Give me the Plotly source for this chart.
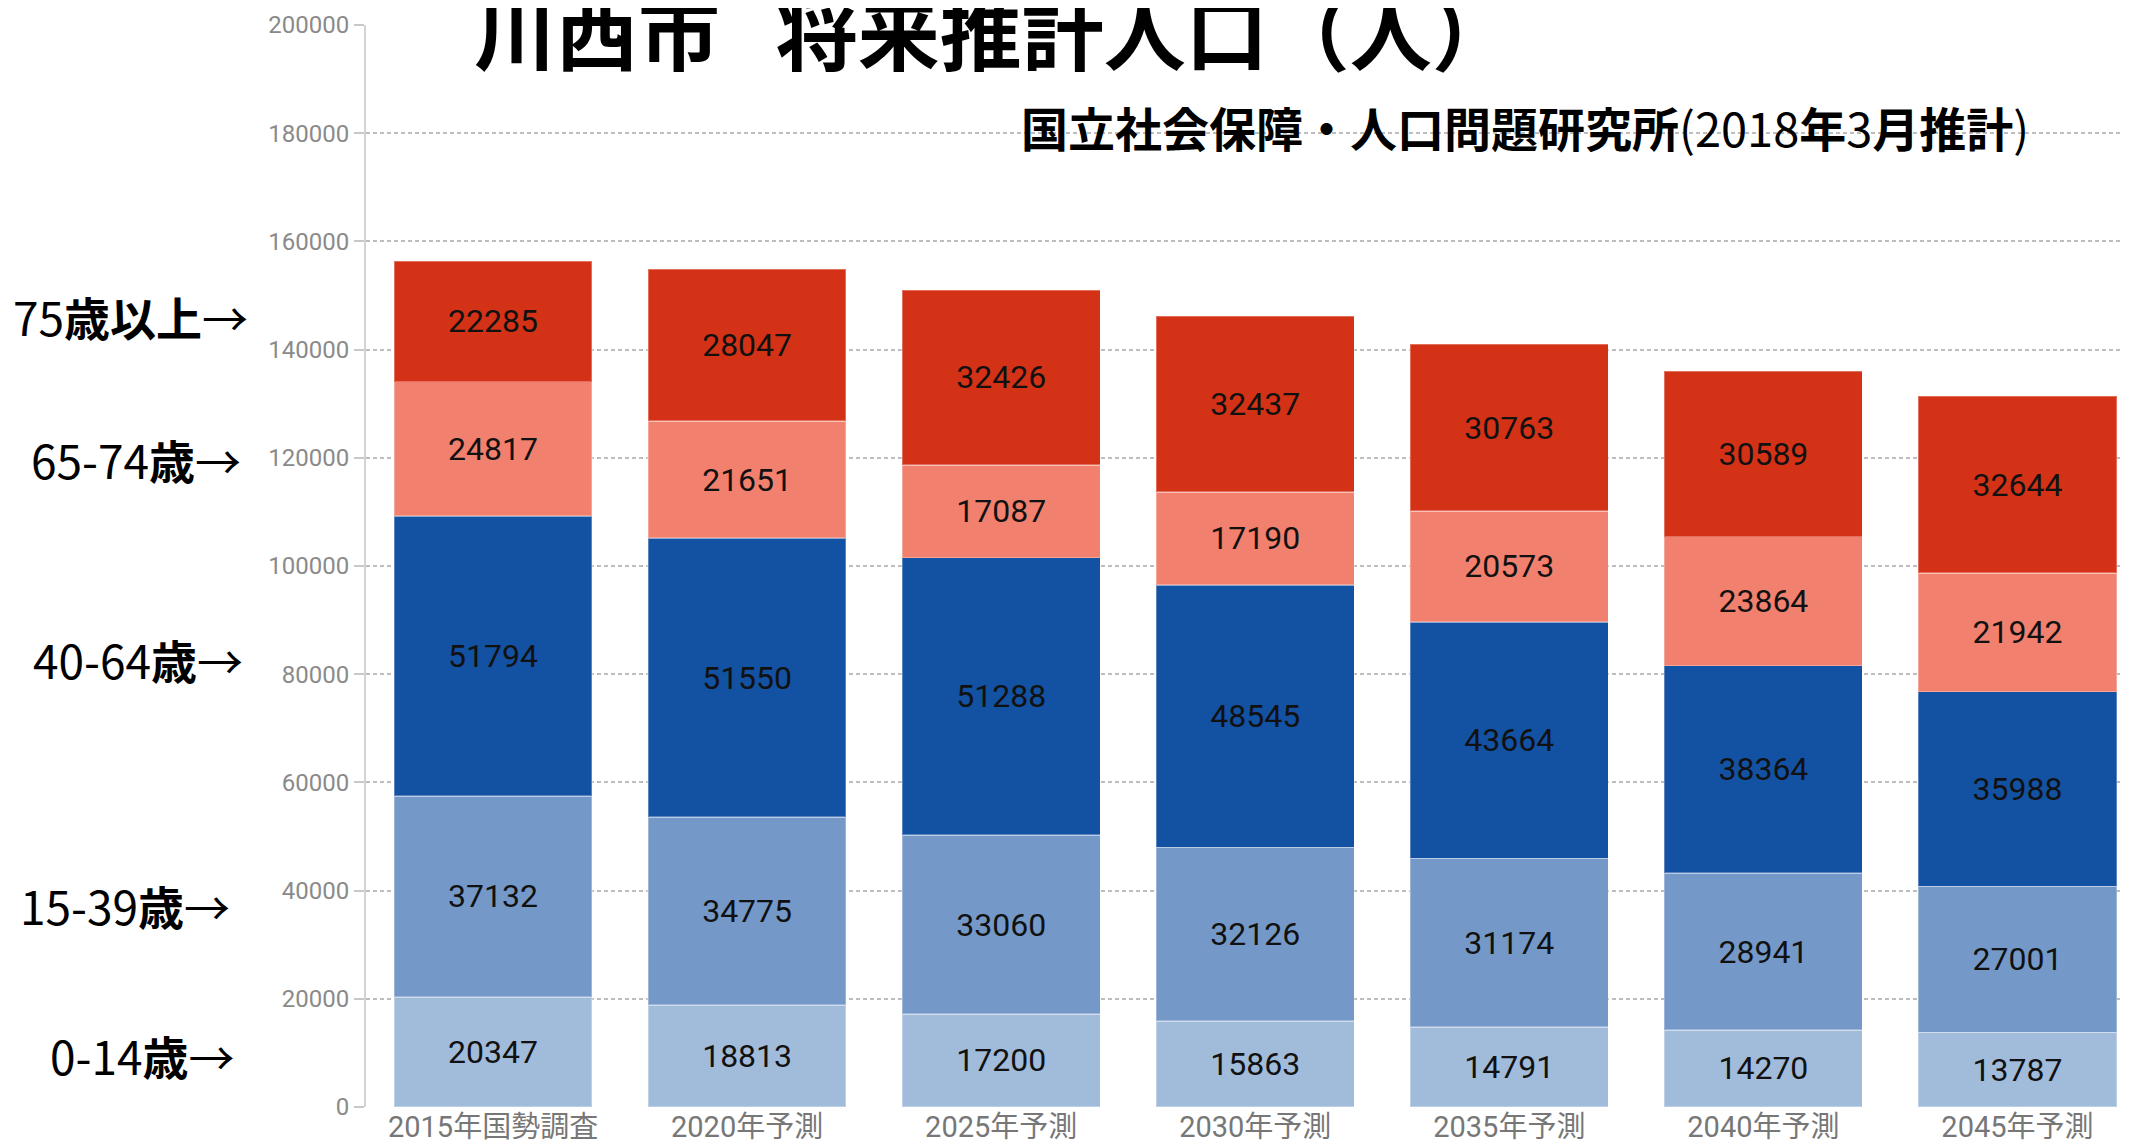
import plotly.graph_objects as go

# ---- data ----
categories = ["2015年国勢調査", "2020年予測", "2025年予測", "2030年予測",
              "2035年予測", "2040年予測", "2045年予測"]
age_0_14 = [20347, 18813, 17200, 15863, 14791, 14270, 13787]
age_15_39 = [37132, 34775, 33060, 32126, 31174, 28941, 27001]
age_40_64 = [51794, 51550, 51288, 48545, 43664, 38364, 35988]
age_65_74 = [24817, 21651, 17087, 17190, 20573, 23864, 21942]
age_75_plus = [22285, 28047, 32426, 32437, 30763, 30589, 32644]

series_names = ["0-14歳", "15-39歳", "40-64歳", "65-74歳", "75歳以上"]
series_values = [age_0_14, age_15_39, age_40_64, age_65_74, age_75_plus]
series_colors = ["#A1BBDB", "#7499C8", "#1351A2", "#F2806E", "#D43216"]

side_labels = ["75<b>歳以上</b>→", "65-74<b>歳</b>→", "40-64<b>歳</b>→",
               "15-39<b>歳</b>→", "0-14<b>歳</b>→"]
y_ticks = [0, 20000, 40000, 60000, 80000, 100000, 120000, 140000,
           160000, 180000, 200000]

title_text = "<b>川西市\u00a0\u00a0\u00a0将来推計人口（人）</b>"
subtitle_text = "<b>国立社会保障・人口問題研究所</b>(2018<b>年</b>3<b>月推計</b>)"

# ---- geometry helpers (page pixel -> paper); page body has an 8px margin ----
OFF = 8
W, H = 2129 - OFF, 1142 - OFF
ML, MR, MT, MB = 366 - OFF, 0, 25 - OFF, 35
PW = W - ML - MR
PH = H - MT - MB


def px_x(px):
    return (px - OFF - ML) / PW


def px_y(py):
    return (H - MB - (py - OFF)) / PH


num_font = "Roboto, sans-serif"
cjk = "Noto Sans CJK JP, sans-serif"

fig = go.Figure()
for name, vals, col in zip(series_names, series_values, series_colors):
    fig.add_trace(go.Bar(
        x=categories, y=vals, name=name,
        marker=dict(color=col, line=dict(color="rgba(255,255,255,0.3)", width=1.5)),
        text=[str(v) for v in vals],
        textposition="inside", insidetextanchor="middle",
        textangle=0, constraintext="none",
        textfont=dict(family=num_font, size=32, color="#111111"),
        hoverinfo="skip",
    ))

fig.update_layout(
    barmode="stack", bargap=0.22,
    width=W, height=H,
    margin=dict(l=ML, r=MR, t=MT, b=MB, pad=0, autoexpand=False),
    paper_bgcolor="white", plot_bgcolor="white",
    showlegend=False,
    font=dict(family=cjk),
)

fig.update_xaxes(
    type="category", range=[-0.5, 6.439], automargin=False,
    showgrid=False, showline=False, zeroline=False,
    ticks="",
    tickfont=dict(family="Roboto, " + cjk, size=29, color="#777777"),
)
fig.update_yaxes(
    range=[0, 200000], tickvals=y_ticks, ticktext=[str(v) for v in y_ticks],
    automargin=False,
    showgrid=True, gridcolor="#BDBDBD", gridwidth=2, griddash="4px,3px",
    zeroline=False,
    showline=True, linecolor="#D3D3D3", linewidth=2,
    ticks="outside", ticklen=10, tickcolor="#C8C8C8", tickwidth=2,
    tickfont=dict(family=num_font, size=24, color="#8A8A8A"),
)

annotations = []
annotations.append(dict(
    text=title_text, xref="paper", yref="paper",
    x=px_x(994), y=px_y(28), xanchor="center", yanchor="middle",
    showarrow=False, font=dict(family=cjk, size=82, color="black"),
))
annotations.append(dict(
    text=subtitle_text, xref="paper", yref="paper",
    x=px_x(1525), y=px_y(127), xanchor="center", yanchor="middle",
    showarrow=False, font=dict(family=cjk, size=47, color="black"),
))

label_x = [250, 243, 245, 232, 237]
label_y = [316, 459, 659, 905, 1055]
for txt, lx, ly in zip(side_labels, label_x, label_y):
    annotations.append(dict(
        text=txt, xref="paper", yref="paper",
        x=px_x(lx), y=px_y(ly), xanchor="right", yanchor="middle",
        showarrow=False, font=dict(family=cjk, size=46, color="black"),
    ))
fig.update_layout(annotations=annotations)

fig.write_html("out.html")
